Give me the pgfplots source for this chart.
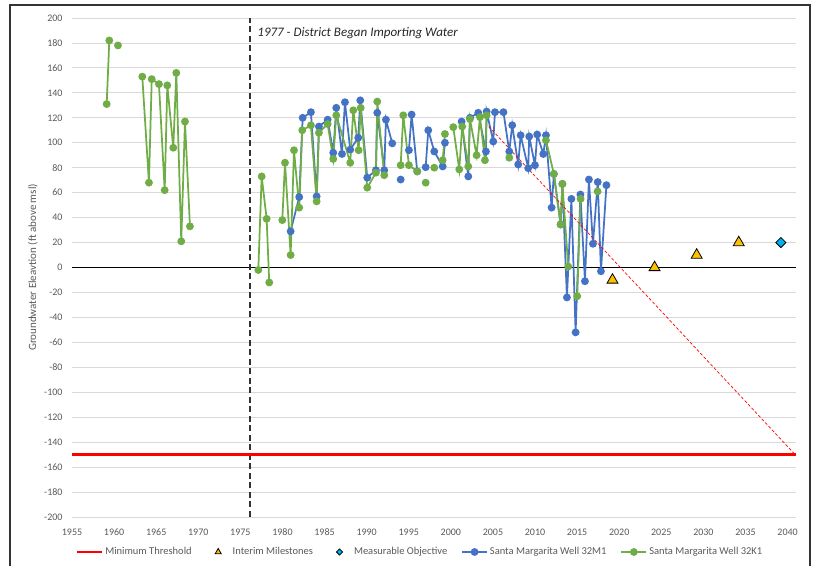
\documentclass[border=0pt]{standalone}
\usepackage{pgfplots}
\pgfplotsset{compat=1.18}
\usepackage{fontspec}
\setmainfont{Carlito}
\definecolor{cblue}{HTML}{4472C4}
\definecolor{cgreen}{HTML}{70AD47}
\definecolor{cred}{HTML}{FF0000}
\definecolor{cgold}{HTML}{FFC000}
\definecolor{ccyan}{HTML}{00B0F0}
\definecolor{cgrid}{HTML}{D9D9D9}
\definecolor{ctext}{HTML}{595959}
\definecolor{cframe}{HTML}{333333}
\pgfplotsset{
  mylinelegend/.style={legend image code/.code={\draw[mark repeat=2,mark phase=2] plot coordinates {(0bp,0bp) (12.5bp,0bp) (25bp,0bp)};}},
  mymarklegend/.style={legend image code/.code={\path[draw=none,fill=none] (0bp,0bp) (25bp,0bp); \draw[mark size=#1] plot coordinates {(12.5bp,0bp)};}},
}
\begin{document}
\begin{tikzpicture}
\useasboundingbox (0,0) rectangle (814bp,566bp);
\draw[cframe, line width=1.6bp] (10bp,0) -- (10bp,561bp) -- (810bp,561bp) -- (810bp,0);
\begin{axis}[
  at={(72bp,49bp)}, anchor=south west,
  scale only axis, width=724bp, height=499bp,
  xmin=1955, xmax=2041, ymin=-200, ymax=200,
  xtick={1955,1960,...,2040}, ytick={-200,-180,...,200},
  axis line style={draw=none}, major tick length=0pt,
  ymajorgrids, major grid style={cgrid, line width=0.8bp},
  /pgf/number format/1000 sep={},
  /pgf/number format/assume math mode=true,
  tick label style={font=\fontsize{10bp}{12bp}\selectfont, text=ctext},
  xticklabel style={yshift=-8bp},
  yticklabel style={xshift=-6bp},
  ylabel={Groundwater Eleavtion (ft above msl)},
  every axis y label/.style={at={(axis description cs:-0.0539,0.5)}, rotate=90, anchor=center, font=\fontsize{11bp}{13bp}\selectfont, text=ctext},
  unbounded coords=jump,
  clip=false,
  legend columns=5,
  legend style={at={(axis description cs:0.4807,-0.0701)}, anchor=center, draw=none, fill=none,
    font=\fontsize{10.5bp}{12bp}\selectfont, text=ctext,
    /tikz/every even column/.append style={column sep=12bp}},
  legend cell align=left,
]
% reference lines (not in legend)
\addplot[forget plot, black, line width=1.2bp] coordinates {(1955,0) (2041,0)};
\addplot[forget plot, cframe, line width=1.5bp, dash pattern=on 6bp off 3.5bp] coordinates {(1976.15,-200) (1976.15,200)};

\addplot[cred, line width=2.5bp, mylinelegend] coordinates {(1955,-150) (2041,-150)};
\addlegendentry{Minimum Threshold}

\addplot[only marks, mark=triangle*, mark size=6.3bp, mark options={fill=cgold, draw=black, line width=0.8bp}, mymarklegend=3.5bp]
  coordinates {(2019.2,-10) (2024.2,0) (2029.2,10) (2034.2,20)};
\addlegendentry{Interim Milestones}

\addplot[only marks, mark=square*, mark size=3.6bp, mark options={fill=ccyan, draw=black, line width=0.8bp, rotate=45}, mymarklegend=2.2bp]
  coordinates {(2039.2,20)};
\addlegendentry{Measurable Objective}

\addplot[cblue, line width=1.75bp, mark=*, mark size=3bp, mark options={fill=cblue, draw=cblue, solid}, mylinelegend] coordinates {
(1980.97,29) (1981.99,56.5) (1982.40,120) (1983.38,124.5) (1984.06,57) (1984.33,113) (1985.37,118.5) (1986.03,92) (1986.39,128) (1987.07,91) (1987.42,132.5) (1988.05,94.5) (1989.0,104) (1989.24,134) (1990.07,72) (1991.10,78) (1991.26,124) (1992.09,78) (1992.29,118.5) (1993.04,99.5) (1993.5,nan)
(1994.04,70.5) (1994.5,nan)
(1995.02,94) (1995.34,122.6) (1996.01,77) (1996.5,nan)
(1997.01,80.4) (1997.32,110) (1998.03,93) (1999.03,81) (1999.30,100) (2000,nan)
(2001.28,117) (2002.07,73) (2002.27,120) (2003.25,124) (2004.17,93) (2004.25,125) (2005.04,101) (2005.24,124.5) (2006.25,124.5) (2006.94,93) (2007.29,114) (2008.0,82.6) (2008.29,106) (2009.19,79.6) (2009.31,105) (2009.99,82) (2010.26,106.6) (2010.98,91) (2011.30,106) (2011.97,48) (2012.24,75) (2013.04,34.5) (2013.25,67) (2013.79,-24) (2014.32,55) (2014.82,-52) (2015.39,58.5) (2015.93,-11) (2016.40,70.5) (2016.88,19) (2017.45,68.5) (2017.83,-3) (2018.48,66)
};
\addlegendentry{Santa Margarita Well 32M1}

\addplot[cgreen, line width=1.75bp, mark=*, mark size=3bp, mark options={fill=cgreen, draw=cgreen, solid}, mylinelegend] coordinates {
(1959.12,131) (1959.43,182) (1960,nan)
(1960.46,178) (1962,nan)
(1963.35,153) (1964.14,68) (1964.47,151) (1965.33,147) (1966.01,62) (1966.32,146) (1967.03,96) (1967.39,156) (1967.98,21) (1968.42,117) (1969.01,33) (1973,nan)
(1977.13,-2) (1977.53,73) (1978.12,39) (1978.43,-12) (1979,nan)
(1979.98,38) (1980.30,84) (1980.97,10) (1981.37,94) (1981.99,48) (1982.35,110) (1983.38,114) (1984.06,53) (1984.33,108) (1985.37,115) (1986.03,87) (1986.39,122) (1988.05,84) (1988.41,126) (1989.05,94) (1989.29,128) (1990.07,64) (1991.10,76) (1991.26,133) (1992.09,74) (1993,nan)
(1994.04,82) (1994.35,122) (1995.02,82) (1996.01,77) (1996.5,nan)
(1997.01,68) (1997.5,nan)
(1998.03,80) (1998.5,nan)
(1999.03,86) (1999.30,107) (1999.8,nan)
(2000.29,112.5) (2001.0,78.6) (2001.35,113) (2002.07,81) (2002.27,119) (2003.06,90) (2003.46,120.5) (2004.05,86) (2004.25,122) (2005,nan)
(2006.94,88) (2008,nan)
(2011.30,102) (2012.24,75) (2013.04,34.5) (2013.25,67) (2013.94,0.8) (2014.5,nan)
(2015.01,-23) (2015.41,55) (2016,nan)
(2017.43,61)
};
\addlegendentry{Santa Margarita Well 32K1}

\addplot[forget plot, cred, line width=0.7bp, dash pattern=on 3bp off 2bp] coordinates {(2004.5,113) (2040.9,-150)};

\node[anchor=west, font=\fontsize{13bp}{15bp}\selectfont\itshape, text=black!85, inner sep=0pt] at (axis cs:1977.0,188) {1977 - District Began Importing Water};
\end{axis}
\end{tikzpicture}
\end{document}
